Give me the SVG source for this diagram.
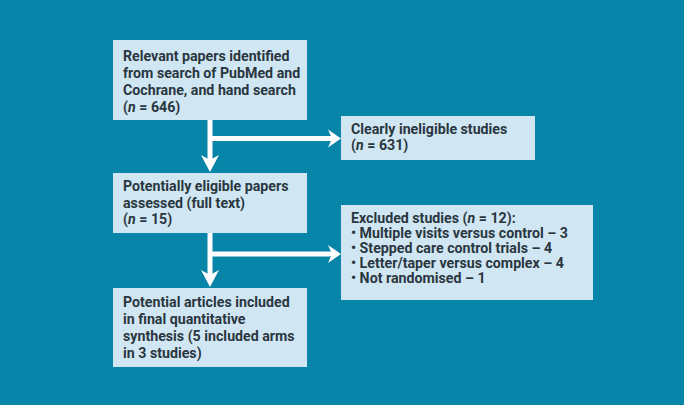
<svg xmlns="http://www.w3.org/2000/svg" width="684" height="405" viewBox="0 0 684 405">
<style>
.box{fill:#d0e7f3;}
.t{font-family:Roboto,"Open Sans",sans-serif;font-weight:700;font-size:14.2px;fill:#2a3640;}
.ln{stroke:#ffffff;stroke-width:5;fill:none;}
.hd{fill:#ffffff;}
</style>
<rect x="0" y="0" width="684" height="405" fill="#0785a8"/>
<g id="connectors">
<path class="ln" d="M210,120 V160"/>
<path class="hd" d="M210,172 L201,155 L210,160 L219,155 Z"/>
<path class="ln" d="M210,138.5 H333"/>
<path class="hd" d="M341,138.5 L328,129.5 L332,138.5 L328,147.5 Z"/>
<path class="ln" d="M210,233 V275"/>
<path class="hd" d="M210,287 L201,270 L210,275 L219,270 Z"/>
<path class="ln" d="M210,254 H333"/>
<path class="hd" d="M341,254 L328,245 L332,254 L328,263 Z"/>
</g>
<g id="n1">
<rect class="box" x="113" y="40" width="194" height="80"/>
<text class="t" x="123" y="61">Relevant papers identified</text>
<text class="t" x="123" y="78">from search of PubMed and</text>
<text class="t" x="123" y="95">Cochrane, and hand search</text>
<text class="t" x="123" y="112">(<tspan font-style="italic">n</tspan> = 646)</text>
</g>
<g id="n2">
<rect class="box" x="341" y="116" width="194" height="44"/>
<text class="t" x="351" y="134">Clearly ineligible studies</text>
<text class="t" x="351" y="150">(<tspan font-style="italic">n</tspan> = 631)</text>
</g>
<g id="n3">
<rect class="box" x="113" y="173" width="194" height="60"/>
<text class="t" x="123" y="191">Potentially eligible papers</text>
<text class="t" x="123" y="208">assessed (full text)</text>
<text class="t" x="123" y="224">(<tspan font-style="italic">n</tspan> = 15)</text>
</g>
<g id="n4">
<rect class="box" x="341" y="205" width="252" height="95"/>
<text class="t" x="351" y="223">Excluded studies (<tspan font-style="italic">n</tspan> = 12):</text>
<text class="t" x="351" y="238">• Multiple visits versus control – 3</text>
<text class="t" x="351" y="253">• Stepped care control trials – 4</text>
<text class="t" x="351" y="268">• Letter/taper versus complex – 4</text>
<text class="t" x="351" y="283">• Not randomised – 1</text>
</g>
<g id="n5">
<rect class="box" x="113" y="288" width="194" height="79"/>
<text class="t" x="123" y="307">Potential articles included</text>
<text class="t" x="123" y="324">in final quantitative</text>
<text class="t" x="123" y="341">synthesis (5 included arms</text>
<text class="t" x="123" y="358">in 3 studies)</text>
</g>
</svg>
